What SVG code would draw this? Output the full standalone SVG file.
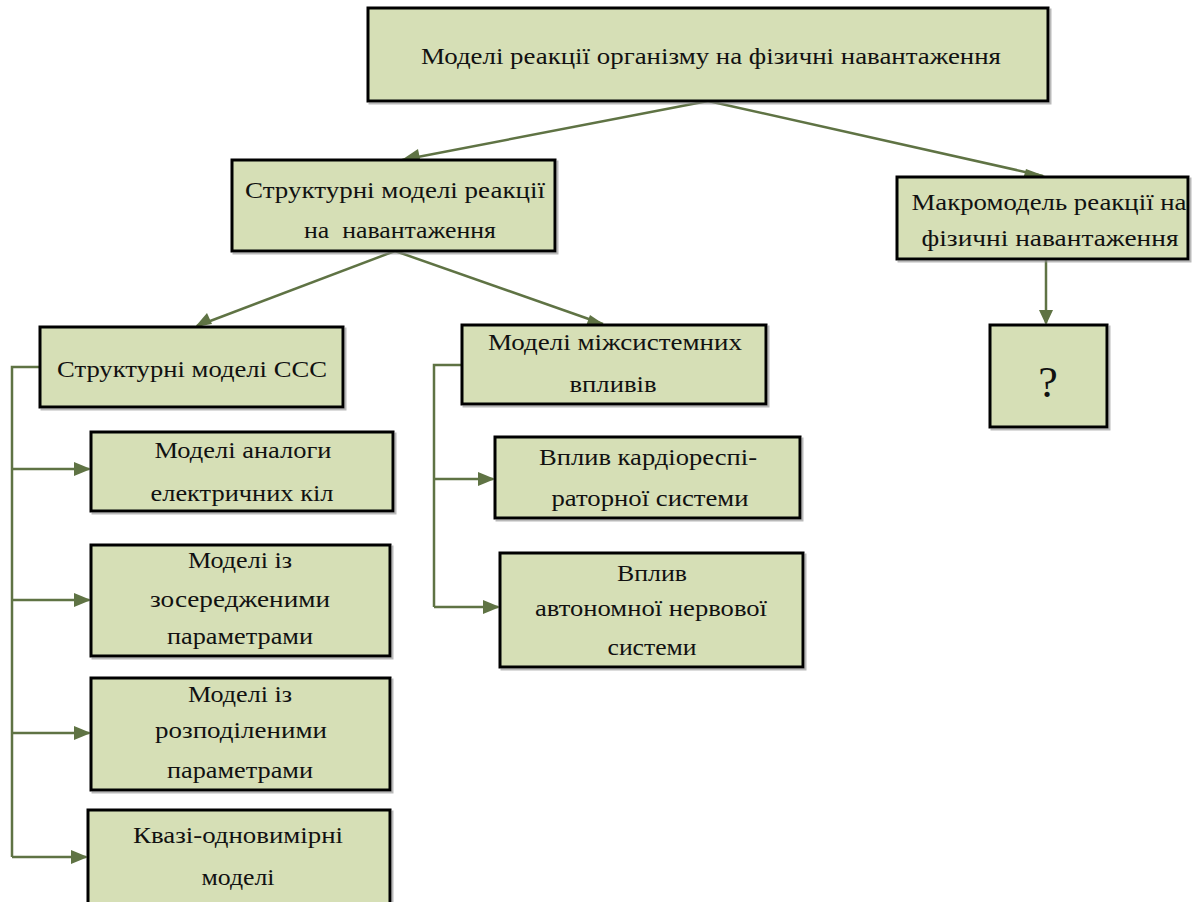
<svg xmlns="http://www.w3.org/2000/svg" width="1202" height="902" viewBox="0 0 1202 902">
<defs>
<filter id="sh" x="-5%" y="-5%" width="110%" height="120%">
<feDropShadow dx="2" dy="2" stdDeviation="0.6" flood-color="#8a8a8a" flood-opacity="0.6"/>
</filter>
<style>
.box{fill:#d6dfb6;stroke:#000;stroke-width:3;filter:url(#sh)}
.t{font-family:"Liberation Serif","Times New Roman",Tinos,"Noto Serif","DejaVu Serif","FreeSerif","Nimbus Roman","PT Serif","Noto Serif CJK SC",serif;font-size:23px;fill:#111;text-anchor:middle}
.c{fill:none;stroke:#5f7344;stroke-width:2.5}
.ah{fill:#5f7344}
</style>
</defs>
<rect width="1202" height="902" fill="#fff"/>
<g id="connectors">
<path class="c" d="M708,101 L402,160"/>
<path class="c" d="M708,101 L1043,176"/>
<path class="c" d="M395,251 L197,326"/>
<path class="c" d="M395,251 L603,324"/>
<path class="c" d="M1046,260 L1046,323"/>
<path class="c" d="M40,367 L12,367 L12,857"/>
<path class="c" d="M12,469 L89,469"/>
<path class="c" d="M12,600 L89,600"/>
<path class="c" d="M12,733 L89,733"/>
<path class="c" d="M12,857 L86,857"/>
<path class="c" d="M462,365 L434,365 L434,607"/>
<path class="c" d="M434,479 L493,479"/>
<path class="c" d="M434,607 L498,607"/>
<path class="ah" d="M400,161 L418,149 L420,159 Z"/>
<path class="ah" d="M1045,176 L1023,179 L1026,169 Z"/>
<path class="ah" d="M195,327 L207,313 L212,324 Z"/>
<path class="ah" d="M605,325 L586,326 L590,315 Z"/>
<path class="ah" d="M1046,325 L1039,310 L1053,310 Z"/>
<path class="ah" d="M91,469 L74,462 L74,476 Z"/>
<path class="ah" d="M91,600 L74,593 L74,607 Z"/>
<path class="ah" d="M91,733 L74,726 L74,740 Z"/>
<path class="ah" d="M88,857 L71,850 L71,864 Z"/>
<path class="ah" d="M495,479 L478,472 L478,486 Z"/>
<path class="ah" d="M500,607 L483,600 L483,614 Z"/>
</g>
<g id="n-top">
<rect class="box" x="368" y="8" width="680" height="93"/>
<text class="t" x="711" y="64" textLength="580" lengthAdjust="spacingAndGlyphs">Моделі реакції організму на фізичні навантаження</text>
</g>
<g id="n-struct">
<rect class="box" x="232" y="160" width="323" height="91"/>
<text class="t" x="395" y="198" textLength="300" lengthAdjust="spacingAndGlyphs">Структурні моделі реакції</text>
<text class="t" x="400" y="238" textLength="192" lengthAdjust="spacingAndGlyphs" xml:space="preserve">на  навантаження</text>
</g>
<g id="n-macro">
<rect class="box" x="897" y="177" width="291" height="82"/>
<text class="t" x="1049" y="210" textLength="275" lengthAdjust="spacingAndGlyphs">Макромодель реакції на</text>
<text class="t" x="1050" y="246" textLength="257" lengthAdjust="spacingAndGlyphs">фізичні навантаження</text>
</g>
<g id="n-q">
<rect class="box" x="990" y="325" width="117" height="102"/>
<text class="t" x="1048" y="397" style="font-size:44px">?</text>
</g>
<g id="n-ccc">
<rect class="box" x="40" y="327" width="303" height="80"/>
<text class="t" x="192" y="377" textLength="270" lengthAdjust="spacingAndGlyphs">Структурні моделі ССС</text>
</g>
<g id="n-inter">
<rect class="box" x="462" y="325" width="304" height="79"/>
<text class="t" x="615" y="350" textLength="254" lengthAdjust="spacingAndGlyphs">Моделі міжсистемних</text>
<text class="t" x="613" y="392" textLength="87" lengthAdjust="spacingAndGlyphs">впливів</text>
</g>
<g id="n-elec">
<rect class="box" x="91" y="432" width="302" height="79"/>
<text class="t" x="243" y="458" textLength="177" lengthAdjust="spacingAndGlyphs">Моделі аналоги</text>
<text class="t" x="242" y="501" textLength="183" lengthAdjust="spacingAndGlyphs">електричних кіл</text>
</g>
<g id="n-lumped">
<rect class="box" x="91" y="545" width="299" height="111"/>
<text class="t" x="240" y="568" textLength="104" lengthAdjust="spacingAndGlyphs">Моделі із</text>
<text class="t" x="240" y="607" textLength="180" lengthAdjust="spacingAndGlyphs">зосередженими</text>
<text class="t" x="240" y="644" textLength="146" lengthAdjust="spacingAndGlyphs">параметрами</text>
</g>
<g id="n-distr">
<rect class="box" x="91" y="678" width="299" height="112"/>
<text class="t" x="240" y="702" textLength="104" lengthAdjust="spacingAndGlyphs">Моделі із</text>
<text class="t" x="241" y="738" textLength="172" lengthAdjust="spacingAndGlyphs">розподіленими</text>
<text class="t" x="240" y="778" textLength="146" lengthAdjust="spacingAndGlyphs">параметрами</text>
</g>
<g id="n-quasi">
<rect class="box" x="88" y="810" width="302" height="95"/>
<text class="t" x="238" y="843" textLength="210" lengthAdjust="spacingAndGlyphs">Квазі-одновимірні</text>
<text class="t" x="238" y="885" textLength="73" lengthAdjust="spacingAndGlyphs">моделі</text>
</g>
<g id="n-cardio">
<rect class="box" x="495" y="437" width="305" height="81"/>
<text class="t" x="648" y="465" textLength="218" lengthAdjust="spacingAndGlyphs">Вплив кардіореспі-</text>
<text class="t" x="650" y="506" textLength="197" lengthAdjust="spacingAndGlyphs">раторної системи</text>
</g>
<g id="n-ans">
<rect class="box" x="500" y="553" width="303" height="114"/>
<text class="t" x="652" y="581" textLength="70" lengthAdjust="spacingAndGlyphs">Вплив</text>
<text class="t" x="651" y="616" textLength="232" lengthAdjust="spacingAndGlyphs">автономної нервової</text>
<text class="t" x="652" y="655" textLength="89" lengthAdjust="spacingAndGlyphs">системи</text>
</g>
</svg>
